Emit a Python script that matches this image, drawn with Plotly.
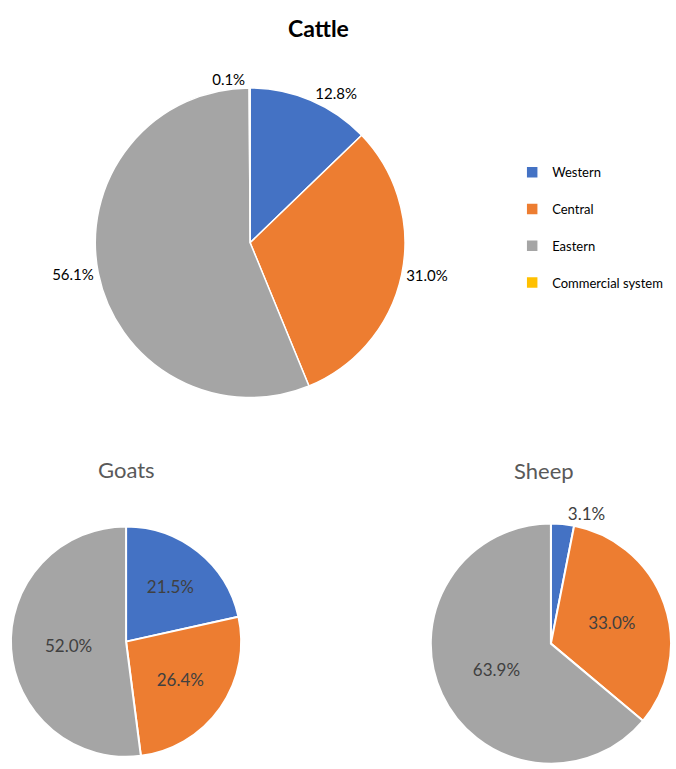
import plotly.graph_objects as go

# Regions / livestock shares (%)
regions = ["Western", "Central", "Eastern", "Commercial system"]
cattle = [12.8, 31.0, 56.1, 0.1]
goat_regions = ["Western", "Central", "Eastern"]
goats = [21.5, 26.4, 52.0]
sheep_regions = ["Western", "Central", "Eastern"]
sheep = [3.1, 33.0, 63.9]

colors = {"Western": "#4472C4", "Central": "#ED7D31",
          "Eastern": "#A5A5A5", "Commercial system": "#FFC000"}

W, H = 676, 769


def domain(cx, cy, r):
    """Pie domain (paper fractions) for a pie centred at (cx, cy) px with radius r px."""
    return dict(x=[max(0, (cx - r) / W), min(1, (cx + r) / W)],
                y=[max(0, 1 - (cy + r) / H), min(1, 1 - (cy - r) / H)])


def legend_label(name):
    # extra blank line gives the legend entries their wider spacing
    return name + "<br> "


fig = go.Figure()

fig.add_trace(go.Pie(
    labels=[legend_label(r) for r in regions], values=cattle, sort=False,
    direction="clockwise", rotation=0,
    marker=dict(colors=[colors[r] for r in regions], line=dict(color="white", width=1.5)),
    texttemplate="%{value:.1f}%", textposition="outside",
    textfont=dict(family="Lato", size=15, color="#000000"),
    domain=domain(252, 244, 156), showlegend=True, hoverinfo="label+value",
))

fig.add_trace(go.Pie(
    labels=[legend_label(r) for r in goat_regions], values=goats, sort=False,
    direction="clockwise", rotation=0,
    marker=dict(colors=[colors[r] for r in goat_regions], line=dict(color="white", width=2)),
    texttemplate="%{value:.1f}%", textposition="inside", insidetextorientation="horizontal",
    textfont=dict(family="Lato", size=17, color="#404040"),
    domain=domain(127, 645, 116), showlegend=False, hoverinfo="label+value",
))

fig.add_trace(go.Pie(
    labels=[legend_label(r) for r in sheep_regions], values=sheep, sort=False,
    direction="clockwise", rotation=0,
    marker=dict(colors=[colors[r] for r in sheep_regions], line=dict(color="white", width=2)),
    texttemplate="%{value:.1f}%", textposition=["outside", "inside", "inside"],
    insidetextorientation="horizontal",
    textfont=dict(family="Lato", size=17, color="#404040"),
    domain=domain(555, 647, 121), showlegend=False, hoverinfo="label+value",
))

title_style = dict(xref="paper", yref="paper", xanchor="center", yanchor="middle",
                   showarrow=False)

fig.update_layout(
    width=W, height=H, margin=dict(l=0, r=0, t=0, b=0),
    paper_bgcolor="white", plot_bgcolor="white",
    font=dict(family="Lato", color="#111111"),
    legend=dict(x=516 / W, y=1 - 158 / H, xanchor="left", yanchor="top",
                font=dict(family="Lato", size=13, color="#000000"),
                valign="top", bgcolor="rgba(0,0,0,0)"),
    annotations=[
        dict(text="<b>Cattle</b>", x=321 / W, y=1 - 28 / H,
             font=dict(family="Lato", size=23, color="#000000"), **title_style),
        dict(text="Goats", x=127 / W, y=1 - 472 / H,
             font=dict(family="Lato", size=22, color="#595959"), **title_style),
        dict(text="Sheep", x=548 / W, y=1 - 473 / H,
             font=dict(family="Lato", size=22, color="#595959"), **title_style),
    ],
)

fig.write_html("out.html")
